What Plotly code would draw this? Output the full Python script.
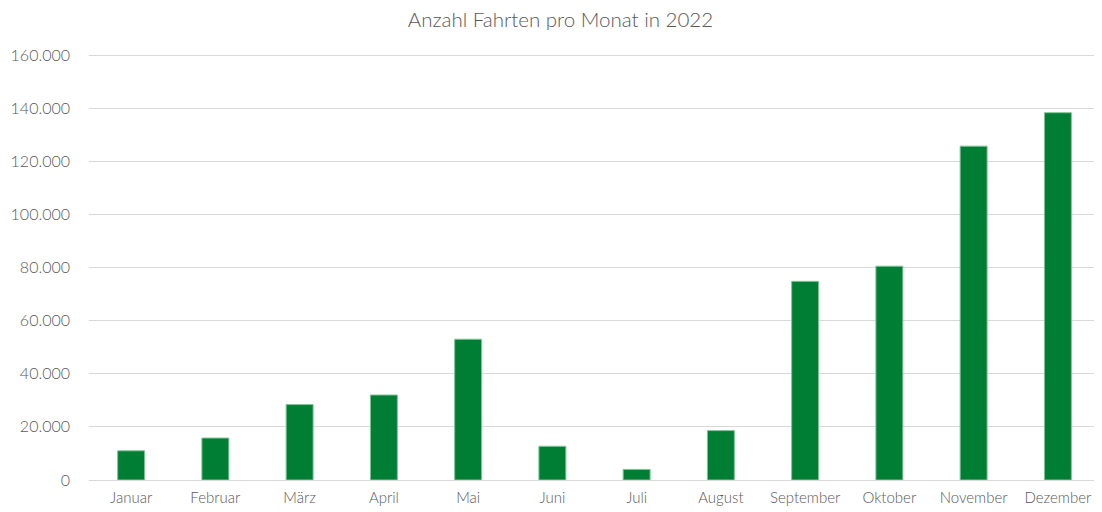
import plotly.graph_objects as go

months = ["Januar", "Februar", "März", "April", "Mai", "Juni", "Juli",
          "August", "September", "Oktober", "November", "Dezember"]
fahrten = [11000, 15800, 28400, 32000, 53000, 12700, 4000,
           18600, 74800, 80500, 125700, 138300]
y_ticks = [0, 20000, 40000, 60000, 80000, 100000, 120000, 140000, 160000]

fig = go.Figure(go.Bar(
    x=months, y=fahrten,
    marker=dict(color="#007E33", line=dict(color="#7fc497", width=1)),
))

# page body has an 8px default margin, so the figure is slightly smaller
fig.update_layout(
    width=1094, height=504,
    paper_bgcolor="white", plot_bgcolor="white",
    separators=",.",
    margin=dict(l=81, r=2, t=46, b=32),
    bargap=0.68,
    showlegend=False,
    title=dict(text="Anzahl Fahrten pro Monat in 2022", x=0.505, xanchor="center",
               y=0.976, yanchor="middle",
               font=dict(family="Lato", size=20.5, weight=300, color="#595959")),
    font=dict(family="Lato", color="#595959"),
)
fig.update_yaxes(range=[0, 160400], tickvals=y_ticks, tickformat=",d",
                 automargin=False,
                 showgrid=True, gridcolor="#d9d9d9", gridwidth=1,
                 zeroline=True, zerolinecolor="#d9d9d9", zerolinewidth=1,
                 showline=False, ticks="", ticklabelstandoff=18,
                 tickfont=dict(family="Lato", size=16, weight=300, color="#595959"))
fig.update_xaxes(showgrid=False, showline=False, ticks="", ticklabelstandoff=7,
                 automargin=False,
                 tickfont=dict(family="Lato", size=15, weight=300, color="#595959"))

fig.write_html("out.html")
